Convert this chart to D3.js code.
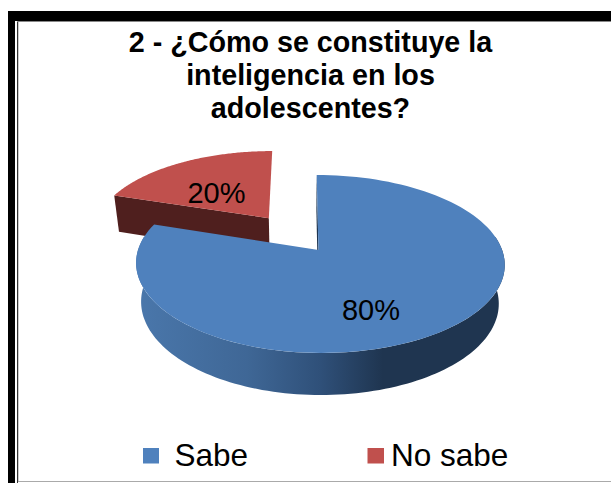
<!DOCTYPE html>
<html>
<head>
<meta charset="utf-8">
<script src="https://cdn.jsdelivr.net/npm/d3@7/dist/d3.min.js"></script>
<style>
html,body{margin:0;padding:0;background:#fff;overflow:hidden}
svg{display:block}
text{font-family:"Liberation Sans",Arial,sans-serif;fill:#000}
</style>
</head>
<body>
<svg id="chart" width="611" height="483"></svg>
<script>
// Survey result
const categories = ["Sabe", "No sabe"];
const percentages = [80, 20];
const titleLines = ["2 - ¿Cómo se constituye la", "inteligencia en los", "adolescentes?"];

const topColors = ["#4f81bd", "#c0504d"];
const redSide = "#4f1f1e";

const svg = d3.select("#chart");

// Frame around the chart
const frame = svg.append("g");
frame.append("rect").attr("x", 8).attr("y", 11).attr("width", 603).attr("height", 472).attr("fill", "#000");
frame.append("rect").attr("x", 15).attr("y", 21).attr("width", 596).attr("height", 462).attr("fill", "#fff");
frame.append("rect").attr("x", 17).attr("y", 21).attr("width", 1.5).attr("height", 462).attr("fill", "#333");
frame.append("rect").attr("x", 17).attr("y", 21).attr("width", 594).attr("height", 1).attr("fill", "#888");
frame.append("rect").attr("x", 18.5).attr("y", 22).attr("width", 592.5).attr("height", 459).attr("fill", "#fff");
frame.append("rect").attr("x", 18).attr("y", 481).attr("width", 593).attr("height", 1).attr("fill", "#aaa");
frame.append("rect").attr("x", 18).attr("y", 482).attr("width", 593).attr("height", 1).attr("fill", "#fff");

// Title
svg.append("g").selectAll("text").data(titleLines).join("text")
  .attr("x", 310.5)
  .attr("y", (d, i) => [52, 85, 118][i])
  .attr("text-anchor", "middle")
  .attr("font-weight", "bold")
  .attr("font-size", 28.7)
  .text(d => d);

// Pie layout: clockwise from twelve o'clock, in series order
const pie = d3.pie().sort(null).startAngle(0).endAngle(2 * Math.PI);
const arcs = pie(percentages);

// Perspective projection of the tilted disc.
// (u, v) are disc coordinates with radius 1, v growing toward the viewer;
// depth 0 is the top face, depth 1 the bottom face of the slab.
const persp = 0.157, radiusY = 86.8, originY = 250, slabH = 39.8, slabW = 0.03;
const bigLens = { eye: 305, skew: 13.5, left: 180.5, right: 183.6 };
const smallLens = { eye: 295, skew: 23.5, left: 181.7, right: 181.7 };
function project(lens, u, v, depth) {
  const w = 1 - persp * v + depth * slabW;
  const rx = u < 0 ? lens.left : lens.right;
  return [lens.eye + (lens.skew + rx * u) / w, originY + (radiusY * v + depth * slabH) / w];
}
const rim = a => [Math.sin(a), -Math.cos(a)];
const EXPLODE = 0.48;

const sweep = (a0, a1) => d3.range(0, 121).map(i => a0 + (a1 - a0) * i / 120);
const line = d3.line();

function wedgeOutline(lens, d, off, depth) {
  const pts = sweep(d.startAngle, d.endAngle).map(a => {
    const [u, v] = rim(a);
    return project(lens, u + off[0], v + off[1], depth);
  });
  return [project(lens, off[0], off[1], depth), ...pts];
}

// Lighting across the outer wall of the big slice
const defs = svg.append("defs");
const wall = defs.append("linearGradient").attr("id", "wallShade")
  .attr("gradientUnits", "userSpaceOnUse")
  .attr("x1", 137).attr("x2", 504).attr("y1", 0).attr("y2", 0);
[[0, "#4a77ab"], [0.3, "#3f6796"], [0.5, "#2f5079"], [0.67, "#1f3550"], [1, "#1f3550"]]
  .forEach(([o, c]) => wall.append("stop").attr("offset", o).attr("stop-color", c));

const pieLayer = svg.append("g");
const [sabe, noSabe] = arcs;
const mid = (noSabe.startAngle + noSabe.endAngle) / 2;
const redOff = rim(mid).map(c => c * EXPLODE);

// Exploded slice: cut face first, then its top
const cutA = rim(noSabe.startAngle);
pieLayer.append("path").attr("fill", redSide).attr("d", line([
  project(smallLens, redOff[0], redOff[1], 0),
  project(smallLens, redOff[0] + cutA[0], redOff[1] + cutA[1], 0),
  project(smallLens, redOff[0] + cutA[0], redOff[1] + cutA[1], 1),
  project(smallLens, redOff[0], redOff[1], 1)
]) + "Z");
pieLayer.append("path").attr("fill", topColors[1])
  .attr("d", line(wedgeOutline(smallLens, noSabe, redOff, 0)) + "Z");

// Big slice: sliver of the inner cut, outer wall, then its top
pieLayer.append("path").attr("fill", "#1f3550").attr("d", line([
  project(bigLens, 0, 0, 0), project(bigLens, 0, -1, 0),
  project(bigLens, 0, -1, 1), project(bigLens, 0, 0, 1)
]) + "Z");
const frontArc = sweep(Math.PI * 0.45, Math.PI * 1.55);
pieLayer.append("path").attr("fill", "url(#wallShade)").attr("d", line([
  ...frontArc.map(a => project(bigLens, ...rim(a), 0)),
  ...frontArc.slice().reverse().map(a => project(bigLens, ...rim(a), 1))
]) + "Z");
pieLayer.append("path").attr("fill", topColors[0])
  .attr("d", line(wedgeOutline(bigLens, sabe, [0, 0], 0)) + "Z");

// Percentage labels
const labelPos = [[371, 320], [216.5, 203]];
svg.append("g").selectAll("text").data(percentages).join("text")
  .attr("x", (d, i) => labelPos[i][0])
  .attr("y", (d, i) => labelPos[i][1])
  .attr("text-anchor", "middle")
  .attr("font-size", 29)
  .text(d => d + "%");

// Legend
const legendX = [143, 367.5], legendTextX = [174.5, 391];
const legend = svg.append("g").selectAll("g").data(categories).join("g");
legend.append("rect")
  .attr("x", (d, i) => legendX[i]).attr("y", 448)
  .attr("width", (d, i) => i ? 16.5 : 16).attr("height", 15.5)
  .attr("fill", (d, i) => topColors[i]);
legend.append("text")
  .attr("x", (d, i) => legendTextX[i]).attr("y", 466)
  .attr("font-size", 31.5)
  .text(d => d);
</script>
</body>
</html>
